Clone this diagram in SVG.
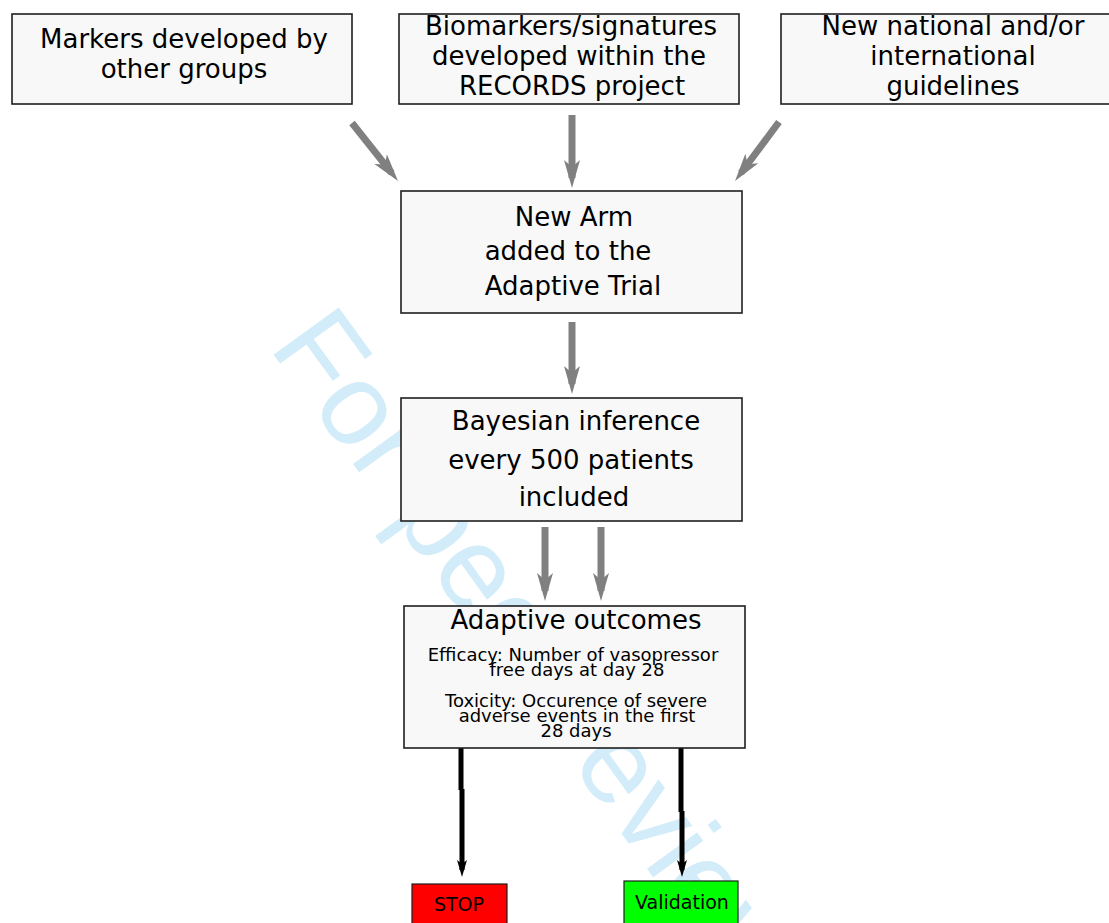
<svg xmlns="http://www.w3.org/2000/svg" width="1109" height="923" viewBox="0 0 1109 923">
<style>
.box{fill:#f8f8f8;stroke:#1e1e1e;stroke-width:1.6}
.t{font-family:"DejaVu Sans",Verdana,sans-serif;fill:#000;text-anchor:middle}
.big{font-size:26px}
.small{font-size:18px}
.lbl{font-size:19px}
.g{fill:none;stroke:#808080;stroke-width:7;marker-end:url(#ga)}
.k{fill:none;stroke:#000;stroke-width:5;marker-end:url(#ka)}
.wm{font-family:"Liberation Sans",Arial,sans-serif;font-size:117px;fill:#d2ecfa}
</style>
<defs>
<marker id="ga" markerUnits="userSpaceOnUse" markerWidth="30" markerHeight="18" viewBox="0 0 30 18" refX="18" refY="8" orient="auto">
<path d="M0,0 L28,8 L0,16 L7,8 Z" fill="#808080"/>
</marker>
<marker id="ka" markerUnits="userSpaceOnUse" markerWidth="18" markerHeight="12" viewBox="0 0 18 12" refX="10" refY="5" orient="auto">
<path d="M0,0 L17,5 L0,10 L4,5 Z" fill="#000"/>
</marker>
</defs>
<rect width="1109" height="923" fill="#fff"/>
<text class="wm" x="268" y="347" transform="rotate(54 268 347)">For peer review</text>

<g id="connectors">
<path class="g" d="M352,123 L391.8,173.2"/>
<path class="g" d="M572,115 L572,178"/>
<path class="g" d="M779,122 L741,173"/>
<path class="g" d="M572,322 L572,384"/>
<path class="g" d="M545,527 L545,591"/>
<path class="g" d="M601,527 L601,591"/>
<path class="k" d="M461,748 L461,790 M462,789 L462,870"/>
<path class="k" d="M681,748 L681,812 M682,811 L682,870"/>
</g>

<g id="markers-other">
<rect class="box" x="12" y="14" width="340" height="90"/>
<text class="t big" x="184" y="48">Markers developed by</text>
<text class="t big" x="184" y="78">other groups</text>
</g>
<g id="biomarkers">
<rect class="box" x="399" y="14" width="340" height="90"/>
<text class="t big" x="571" y="35">Biomarkers/signatures</text>
<text class="t big" x="569" y="65">developed within the</text>
<text class="t big" x="572" y="95">RECORDS project</text>
</g>
<g id="guidelines">
<rect class="box" x="781" y="14" width="330" height="90"/>
<text class="t big" x="953" y="35">New national and/or</text>
<text class="t big" x="953" y="65">international</text>
<text class="t big" x="953" y="95">guidelines</text>
</g>
<g id="new-arm">
<rect class="box" x="401" y="191" width="341" height="122"/>
<text class="t big" x="574" y="226">New Arm</text>
<text class="t big" x="568" y="260">added to the</text>
<text class="t big" x="573" y="295">Adaptive Trial</text>
</g>
<g id="bayesian">
<rect class="box" x="401" y="398" width="341" height="123"/>
<text class="t big" x="576" y="430">Bayesian inference</text>
<text class="t big" x="571" y="469">every 500 patients</text>
<text class="t big" x="574" y="506">included</text>
</g>
<g id="outcomes">
<rect class="box" x="404" y="606" width="341" height="142"/>
<text class="t big" x="576" y="629">Adaptive outcomes</text>
<text class="t small" x="573" y="661">Efficacy: Number of vasopressor</text>
<text class="t small" x="577" y="676">free days at day 28</text>
<text class="t small" x="576" y="707">Toxicity: Occurence of severe</text>
<text class="t small" x="577" y="722">adverse events in the first</text>
<text class="t small" x="576" y="737">28 days</text>
</g>
<g id="stop">
<rect x="412" y="884" width="95" height="50" fill="#ff0000" stroke="#1e1e1e" stroke-width="1.2"/>
<text class="t lbl" x="459" y="911">STOP</text>
</g>
<g id="validation">
<rect x="624" y="881" width="114" height="50" fill="#00ff00" stroke="#1e1e1e" stroke-width="1.2"/>
<text class="t lbl" x="682" y="909">Validation</text>
</g>
</svg>
